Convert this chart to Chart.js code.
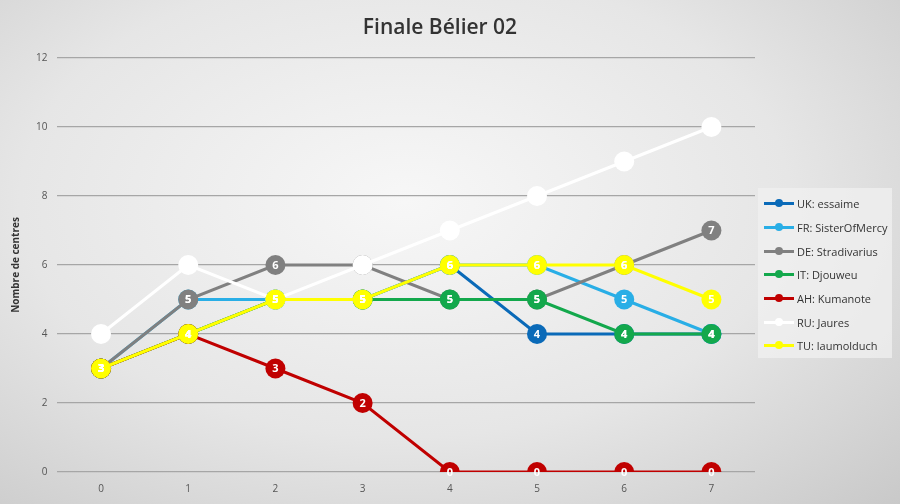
<!DOCTYPE html>
<html><head><meta charset="utf-8">
<script src="https://cdn.jsdelivr.net/npm/chart.js@4"></script>
<style>
html,body{margin:0;padding:0;}
body{width:900px;height:504px;background:radial-gradient(ellipse at 45% 40%,#f7f7f7 0%,#e6e6e6 55%,#c9c9c9 100%);position:relative;overflow:hidden;font-family:"Open Sans",sans-serif;}
#wrap{position:absolute;left:0;top:0;width:900px;height:504px;}
#title{position:absolute;top:12px;left:0;width:880px;text-align:center;font:600 21px "Open Sans",sans-serif;color:#333;}
#legend{position:absolute;left:758px;top:188px;width:134px;height:170px;background:rgba(240,240,240,0.75);padding:4px 0 0 6px;box-sizing:border-box;}
.li{display:flex;align-items:center;height:23.7px;font:11px "Open Sans",sans-serif;color:#333;}
.sw{position:relative;width:30px;height:3px;margin-right:3px;}
.sw i{position:absolute;left:11px;top:-3px;width:8px;height:8px;border-radius:50%;}
</style></head><body>
<div id="wrap"><canvas id="c" width="900" height="504"></canvas></div>
<div id="title">Finale Bélier 02</div>
<div id="legend"></div>
<script>
const categories=['0','1','2','3','4','5','6','7'];
const seriesNames=['UK: essaime','FR: SisterOfMercy','DE: Stradivarius','IT: Djouweu','AH: Kumanote','RU: Jaures','TU: laumolduch'];
const colors=['#0a6ab8','#29aee6','#808080','#13a84c','#c00000','#ffffff','#ffff00'];
const ukValues=[3,4,5,5,6,4,4,4];
const frValues=[3,5,5,5,6,6,5,4];
const deValues=[3,5,6,6,5,5,6,7];
const itValues=[3,4,5,5,5,5,4,4];
const ahValues=[3,4,3,2,0,0,0,0];
const ruValues=[4,6,5,6,7,8,9,10];
const tuValues=[3,4,5,5,6,6,6,5];
const yTicks=[0,2,4,6,8,10,12];
const all=[ukValues,frValues,deValues,itValues,ahValues,ruValues,tuValues];
const lg=document.getElementById('legend');
seriesNames.forEach((n,i)=>{lg.innerHTML+=`<div class="li"><span class="sw" style="background:${colors[i]}"><i style="background:${colors[i]}"></i></span>${n}</div>`;});
const labelPlugin={id:'lbl',afterDatasetsDraw(ch){const c=ch.ctx;c.save();c.font='bold 11px "Open Sans",sans-serif';c.textAlign='center';c.textBaseline='middle';
ch.data.datasets.forEach((d,i)=>{if(i===5)return;const m=ch.getDatasetMeta(i);m.data.forEach((p,j)=>{c.fillStyle='#fff';c.fillText(String(d.data[j]),p.x,p.y+0.5);});});c.restore();}};
new Chart(document.getElementById('c'),{type:'line',
data:{labels:categories,datasets:all.map((v,i)=>({label:seriesNames[i],data:v,order:6-i,borderColor:colors[i],backgroundColor:colors[i],borderWidth:3,pointRadius:10,pointHoverRadius:10,pointBorderWidth:0,tension:0}))},
options:{responsive:false,animation:false,events:[],layout:{padding:{top:58,right:145,left:6,bottom:6}},
plugins:{legend:{display:false},tooltip:{enabled:false}},
scales:{x:{offset:true,grid:{display:false},border:{display:false},ticks:{color:'#555',font:{size:10,family:'Open Sans'}}},
y:{min:0,max:12,afterBuildTicks(a){a.ticks=yTicks.map(v=>({value:v}));},grid:{color:'#a6a6a6',lineWidth:1.2,drawTicks:false},border:{display:false},ticks:{color:'#555',padding:10,font:{size:10,family:'Open Sans'}},title:{display:true,text:'Nombre de centres',color:'#333',font:{size:10,weight:'bold',family:'Open Sans'}}}}},
plugins:[labelPlugin]});
</script></body></html>
